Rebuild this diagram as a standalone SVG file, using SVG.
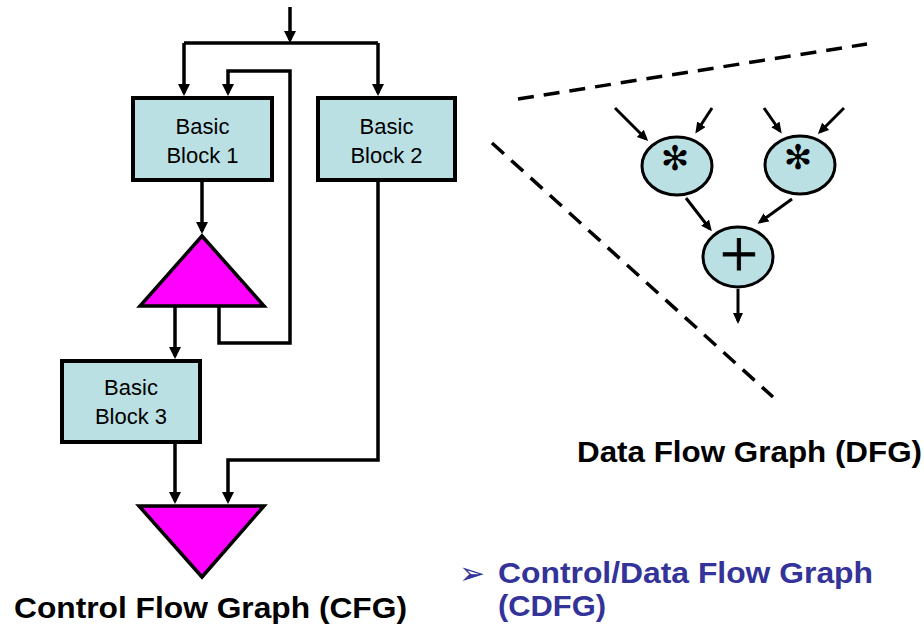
<svg xmlns="http://www.w3.org/2000/svg" width="924" height="631" viewBox="0 0 924 631">
  <style>
    .block { fill: #BBE0E3; stroke: #000; stroke-width: 4; }
    .branch { fill: #FF00FF; stroke: #000; stroke-width: 3.5; stroke-linejoin: miter; }
    .op { fill: #BBE0E3; stroke: #000; stroke-width: 3; }
    .lbl { font-family: "Liberation Sans", Arial, sans-serif; font-size: 22px; fill: #000; text-anchor: middle; }
    .title { font-family: "Liberation Sans", Arial, sans-serif; font-size: 30px; font-weight: bold; fill: #000; }
    .cdfg { font-family: "Liberation Sans", Arial, sans-serif; font-size: 30px; font-weight: bold; fill: #333399; }
    .mul { font-family: "DejaVu Sans", sans-serif; font-size: 34px; fill: #000; text-anchor: middle; }
    .plus { font-family: "Liberation Serif", "Times New Roman", serif; font-size: 68px; fill: #000; stroke: #000; stroke-width: 0.8; text-anchor: middle; }
    .cf { fill: none; stroke: #000; stroke-width: 3.5; stroke-linejoin: miter; }
    .df { fill: none; stroke: #000; stroke-width: 3; }
    .dash { fill: none; stroke: #000; stroke-width: 3.5; stroke-dasharray: 16 10; }
  </style>
  <defs>
    <marker id="ah" markerUnits="userSpaceOnUse" markerWidth="14" markerHeight="14" refX="9" refY="6" orient="auto">
      <path d="M0,0 L12,6 L0,12 z" fill="#000"/>
    </marker>
    <marker id="ahs" markerUnits="userSpaceOnUse" markerWidth="12" markerHeight="12" refX="8" refY="5" orient="auto">
      <path d="M0,0 L11,5 L0,10 z" fill="#000"/>
    </marker>
  </defs>

  <!-- control flow graph connectors -->
  <g id="cfg-edges">
    <path class="cf" d="M290,7 V40" marker-end="url(#ah)"/>
    <path class="cf" d="M184,43 H378"/>
    <path class="cf" d="M184,43 V93" marker-end="url(#ah)"/>
    <path class="cf" d="M378,43 V93" marker-end="url(#ah)"/>
    <path class="cf" d="M219,306 V343 H290 V71 H228 V93" marker-end="url(#ah)"/>
    <path class="cf" d="M202,182 V231" marker-end="url(#ah)"/>
    <path class="cf" d="M175,306 V356" marker-end="url(#ah)"/>
    <path class="cf" d="M378,182 V460 H228 V501" marker-end="url(#ah)"/>
    <path class="cf" d="M175,444 V501" marker-end="url(#ah)"/>
  </g>

  <g id="bb1">
    <rect class="block" x="133" y="98" width="139" height="82"/>
    <text class="lbl" x="202.5" y="134">Basic</text>
    <text class="lbl" x="202.5" y="163">Block 1</text>
  </g>
  <g id="bb2">
    <rect class="block" x="318" y="98" width="137" height="82"/>
    <text class="lbl" x="386.5" y="134">Basic</text>
    <text class="lbl" x="386.5" y="163">Block 2</text>
  </g>
  <g id="branch">
    <polygon class="branch" points="202,236 140,306 264,306"/>
  </g>
  <g id="bb3">
    <rect class="block" x="62" y="361" width="138" height="81"/>
    <text class="lbl" x="131" y="395">Basic</text>
    <text class="lbl" x="131" y="424">Block 3</text>
  </g>
  <g id="merge">
    <polygon class="branch" points="139,506 264,506 202,577"/>
  </g>
  <text class="title" x="14" y="618" textLength="393" lengthAdjust="spacingAndGlyphs">Control Flow Graph (CFG)</text>

  <!-- data flow graph -->
  <g id="dfg-frame">
    <line class="dash" x1="518" y1="99" x2="867" y2="44"/>
    <line class="dash" x1="492" y1="143" x2="773" y2="397"/>
  </g>
  <g id="dfg-edges">
    <line class="df" x1="615" y1="108" x2="646" y2="139" marker-end="url(#ahs)"/>
    <line class="df" x1="712" y1="108" x2="697" y2="131" marker-end="url(#ahs)"/>
    <line class="df" x1="764" y1="108" x2="780" y2="131" marker-end="url(#ahs)"/>
    <line class="df" x1="844" y1="108" x2="820" y2="132" marker-end="url(#ahs)"/>
    <line class="df" x1="686" y1="198" x2="710" y2="229" marker-end="url(#ahs)"/>
    <line class="df" x1="792" y1="199" x2="760" y2="222" marker-end="url(#ahs)"/>
    <line class="df" x1="738" y1="289" x2="738" y2="321" marker-end="url(#ahs)"/>
  </g>
  <g id="mul1">
    <ellipse class="op" cx="677" cy="166" rx="35" ry="29"/>
    <text class="mul" x="675" y="170">✻</text>
  </g>
  <g id="mul2">
    <ellipse class="op" cx="800" cy="165" rx="35" ry="29"/>
    <text class="mul" x="798" y="169">✻</text>
  </g>
  <g id="add">
    <ellipse class="op" cx="738" cy="257" rx="35" ry="30"/>
    <text class="plus" x="739" y="277">+</text>
  </g>
  <text class="title" x="577" y="462" textLength="345" lengthAdjust="spacingAndGlyphs">Data Flow Graph (DFG)</text>

  <!-- bullet caption -->
  <g id="caption">
    <text x="459" y="584" font-family="'DejaVu Sans', sans-serif" font-size="31" fill="#333399">➢</text>
    <text class="cdfg" x="498" y="583" textLength="375" lengthAdjust="spacingAndGlyphs">Control/Data Flow Graph</text>
    <text class="cdfg" x="498" y="616" textLength="108" lengthAdjust="spacingAndGlyphs">(CDFG)</text>
  </g>
</svg>
